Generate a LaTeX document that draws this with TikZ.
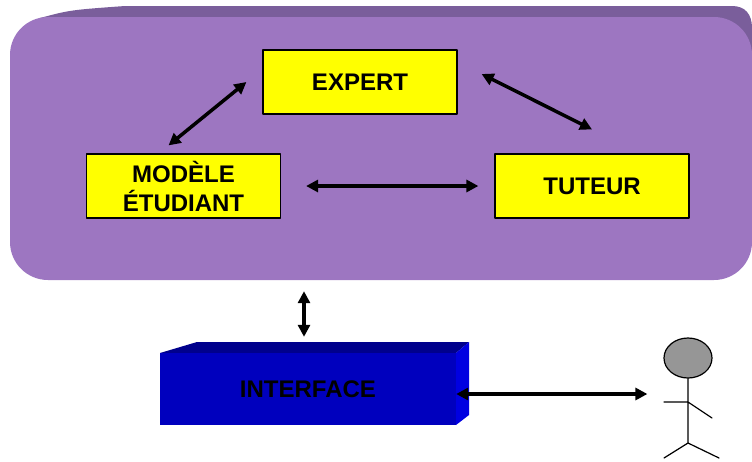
\documentclass[tikz,border=0pt]{standalone}
\usepackage{fontspec}
\setmainfont{Liberation Sans}
\usetikzlibrary{arrows.meta,shapes.geometric}
\definecolor{mauve}{RGB}{157,118,193}
\definecolor{mauvefonce}{RGB}{122,94,155}
\definecolor{jaune}{RGB}{255,255,0}
\definecolor{bleu}{RGB}{0,0,190}
\definecolor{bleufonce}{RGB}{0,0,140}
\definecolor{bleuclair}{RGB}{0,0,225}
\definecolor{gris}{RGB}{150,150,150}
\begin{document}
\begin{tikzpicture}[x=1pt,y=-1pt,line join=round,
    boite/.style={draw=black,line width=1.2pt,fill=jaune,minimum width=194pt,minimum height=64pt,
      inner sep=0pt,align=center,font=\bfseries\fontsize{24}{29}\selectfont},
    fleche/.style={line width=3.5pt,{Triangle[length=12pt,width=12pt]}-{Triangle[length=12pt,width=12pt]}},
    trait/.style={line width=1.2pt,line cap=round}]
  \useasboundingbox (0,0) rectangle (752,461);

  \fill[mauvefonce] (40,18) .. controls (70,10) .. (125,6) -- (732,6) .. controls (745,6) and (752,14) .. (752,28)
    -- (752,60) -- (45,60) -- cycle;
  \node[fill=mauve,rounded corners=38pt,minimum width=742pt,minimum height=263pt,inner sep=0pt]
    (systeme) at (381,148.5) {};

  \node[boite] (expert) at (360,82) {EXPERT};
  \node[boite] (modele) at (183.5,186) {MODÈLE\\ÉTUDIANT};
  \node[boite] (tuteur) at (592,186) {TUTEUR};

  \draw[fleche] ([xshift=-15pt,yshift=8pt]modele.north) -- ([xshift=-16pt]expert.west);
  \draw[fleche] ([xshift=24pt,yshift=8pt]expert.east) -- ([yshift=24pt]tuteur.north);
  \draw[fleche,shorten <=25pt,shorten >=16pt] (modele) -- (tuteur);

  \fill[bleufonce] (160,353) -- (197,342) -- (469,342) -- (456,353) -- cycle;
  \fill[bleuclair] (456,353) -- (469,342) -- (469,415) -- (456,425) -- cycle;
  \node[fill=bleu,minimum width=296pt,minimum height=72pt,inner sep=0pt,
    font=\bfseries\fontsize{24}{29}\selectfont] (interface) at (308,389) {INTERFACE};

  \draw[fleche] ([xshift=-4pt,yshift=-11pt]systeme.south -| interface.north)
    -- ([xshift=-4pt,yshift=16pt]interface.north);

  \node[ellipse,draw,trait,fill=gris,minimum width=48pt,minimum height=40pt,inner sep=0pt]
    (tete) at (688,358) {};
  \coordinate (epaule) at (688,402);
  \coordinate (hanche) at (688,443);
  \draw[trait] (tete.south) -- (hanche)
    (epaule) -- +(-24,0) (epaule) -- +(24,16)
    (hanche) -- +(-24,15) (hanche) -- +(31,15);

  \draw[fleche,shorten >=16pt] ([yshift=-5pt]interface.east) -- ([yshift=-5pt]interface.east -| tete.west);
\end{tikzpicture}
\end{document}
